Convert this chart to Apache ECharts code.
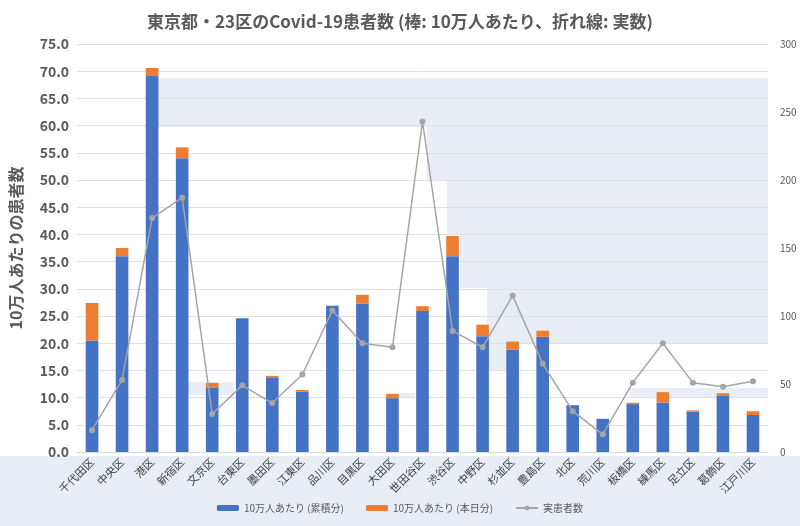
<!DOCTYPE html>
<html>
<head>
<meta charset="utf-8">
<script src="https://cdn.jsdelivr.net/npm/echarts@6/dist/echarts.min.js"></script>
<style>
html, body { margin: 0; padding: 0; background: #fff; }
#main { width: 800px; height: 526px; }
</style>
</head>
<body>
<div id="main"></div>
<script>
// 区名
var wards = ['千代田区', '中央区', '港区', '新宿区', '文京区', '台東区', '墨田区', '江東区',
    '品川区', '目黒区', '大田区', '世田谷区', '渋谷区', '中野区', '杉並区', '豊島区',
    '北区', '荒川区', '板橋区', '練馬区', '足立区', '葛飾区', '江戸川区'];
// 10万人あたり (累積分)
var per100kTotal = [20.5, 36.0, 69.1, 54.0, 11.8, 24.6, 13.6, 11.1, 26.9, 27.3, 9.9, 25.9,
    36.0, 21.3, 18.8, 21.2, 8.6, 6.1, 8.8, 9.1, 7.4, 10.3, 6.8];
// 10万人あたり (本日分)
var per100kToday = [6.9, 1.5, 1.5, 2.0, 0.9, 0, 0.4, 0.3, 0, 1.6, 0.8, 0.9,
    3.7, 2.1, 1.5, 1.1, 0, 0, 0.25, 1.9, 0.25, 0.5, 0.7];
// 実患者数
var patients = [16, 53, 172, 187, 28, 49, 36, 57, 104, 80, 77, 243,
    89, 77, 115, 65, 30, 13, 51, 80, 51, 48, 52];

var bgColor = '#e9edf5';
// 背景の帯
var bgRects = [
    [0, 456, 800, 70],
    [157, 78, 611, 49],
    [427, 127, 341, 53],
    [447, 180, 321, 55],
    [460, 235, 308, 53],
    [487, 288, 281, 55],
    [485, 343, 22, 27],
    [630, 388, 138, 10],
    [188, 382, 46, 13],
    [397, 393, 18, 4]
];

var myChart = echarts.init(document.getElementById('main'));
var font = '"Noto Sans CJK JP", "Noto Sans", sans-serif';

myChart.setOption({
    textStyle: { fontFamily: font },
    graphic: bgRects.map(function (r) {
        return {
            type: 'rect', z: -10, silent: true,
            shape: { x: r[0], y: r[1], width: r[2], height: r[3] },
            style: { fill: bgColor }
        };
    }),
    title: {
        text: '東京都・23区のCovid-19患者数 (棒: 10万人あたり、折れ線: 実数)',
        left: 'center',
        top: 8,
        textStyle: { fontSize: 17, fontWeight: 'bold', color: '#595959', fontFamily: font }
    },
    legend: {
        bottom: 8,
        left: 'center',
        itemGap: 22,
        itemWidth: 22,
        itemHeight: 6,
        textStyle: { fontSize: 10, color: '#595959', fontFamily: font },
        data: ['10万人あたり (累積分)', '10万人あたり (本日分)', '実患者数']
    },
    grid: { left: 75, right: 32, top: 44, bottom: 74 },
    xAxis: {
        type: 'category',
        data: wards,
        axisTick: { show: false },
        axisLine: { lineStyle: { color: '#d9d9d9' } },
        axisLabel: { interval: 0, rotate: 45, fontSize: 11, color: '#404040', margin: 8 }
    },
    yAxis: [{
        type: 'value',
        min: 0, max: 75, interval: 5,
        name: '10万人あたりの患者数',
        nameLocation: 'middle',
        nameRotate: 90,
        nameGap: 53,
        nameTextStyle: { fontSize: 16, fontWeight: 'bold', color: '#595959' },
        axisLine: { show: false },
        axisTick: { show: false },
        axisLabel: {
            fontSize: 14, color: '#595959', fontWeight: 'bold',
            formatter: function (v) { return v.toFixed(1); }
        },
        splitLine: { lineStyle: { color: '#e0e0e0' } }
    }, {
        type: 'value',
        min: 0, max: 300, interval: 50,
        axisLine: { show: false },
        axisTick: { show: false },
        axisLabel: { fontSize: 10, color: '#595959', margin: 12 },
        splitLine: { show: false }
    }],
    series: [{
        name: '10万人あたり (累積分)',
        type: 'bar',
        stack: 'rate',
        barWidth: '42%',
        itemStyle: { color: '#4472c4' },
        data: per100kTotal
    }, {
        name: '10万人あたり (本日分)',
        type: 'bar',
        stack: 'rate',
        itemStyle: { color: '#ed7d31' },
        data: per100kToday
    }, {
        name: '実患者数',
        type: 'line',
        yAxisIndex: 1,
        symbol: 'circle',
        symbolSize: 6,
        lineStyle: { color: '#a5a5a5', width: 1.5 },
        itemStyle: { color: '#a5a5a5' },
        data: patients
    }]
});
</script>
</body>
</html>
